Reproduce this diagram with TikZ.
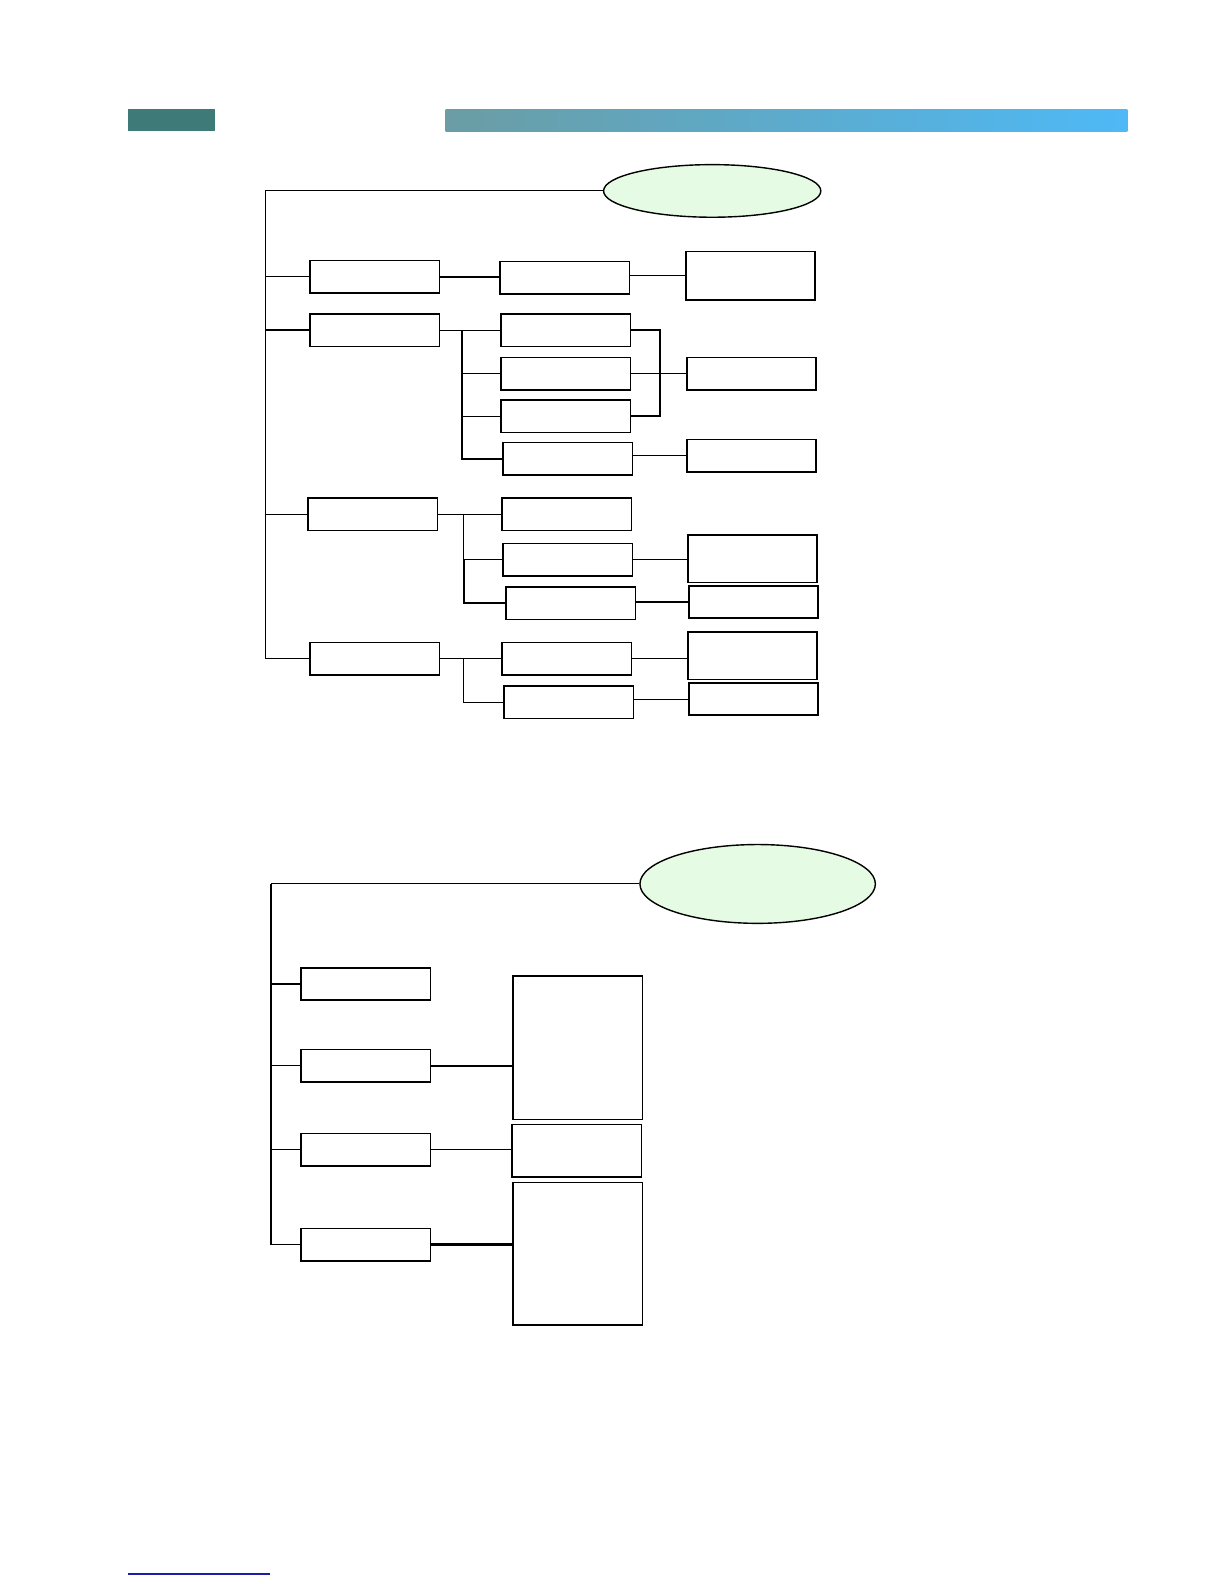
\documentclass[tikz,border=0pt]{standalone}
\usetikzlibrary{positioning,shapes.geometric}
\definecolor{hdteal}{HTML}{3E7B78}
\definecolor{hdgrey}{HTML}{6A9DA4}
\definecolor{hdblue}{HTML}{4EB9F6}
\definecolor{ovalgreen}{HTML}{E6FBE4}
\definecolor{linkblue}{HTML}{1C1CA6}
\begin{document}
\begin{tikzpicture}[x=0.505pt, y=-0.505pt,
  box/.style={draw, rectangle, inner sep=0pt, minimum width=64.6pt,
              minimum height=16.2pt, line width=0.8pt},
  oval/.style={draw, ellipse, fill=ovalgreen, inner sep=0pt, line width=0.7pt},
  ln/.style={line width=0.55pt},
  thk/.style={line width=1.1pt},
]
\useasboundingbox (0,0) rectangle (1212,1568);
% Header bar
\fill[hdteal] (127,108) rectangle (213,130);
\shade[left color=hdgrey, right color=hdblue] (441,108) rectangle (1116,130);
% Upper tree
\node[oval, minimum width=108.6pt, minimum height=26.3pt] (top) at (705,189) {};
\coordinate (sp) at (263,189);
\node[box] (a) at (371,274) {};
\node[box] (b) at (371,327) {};
\node[box] (c) at (369,509) {};
\node[box] (d) at (371,652) {};
\draw[ln] (top.west) -- (sp) |- (d.west);
\draw[ln] (sp |- a.west) -- (a.west);
\draw[thk] (sp |- b.west) -- (b.west);
\draw[ln] (sp |- c.west) -- (c.west);
% first branch
\node[box] (a1) at (559,275) {};
\node[box, minimum height=24.2pt] (a1r) at (743,273) {};
\draw[thk] (a.east) -- (a.east -| a1.west);
\draw[ln] (a1.east |- a1r.west) -- (a1r.west);
% second branch
\node[box] (b1) at (560,327) {};
\node[box] (b2) at (560,370) {};
\node[box] (b3) at (560,412) {};
\node[box] (b4) at (562,454) {};
\node[box] (b23r) at (744,370) {};
\node[box] (b4r) at (744,451) {};
\coordinate (bb) at (457,327);
\draw[ln] (b.east) -- (b1.west);
\draw[thk] (bb) |- (b4.west);
\draw[ln] (bb |- b2.west) -- (b2.west);
\draw[ln] (bb |- b3.west) -- (b3.west);
\coordinate (bk) at (653,370);
\draw[thk] (b1.east) -| (bk |- b3.east) -- (b3.east);
\draw[ln] (b2.east) -- (b23r.west);
\draw[ln] (b4.east |- b4r.west) -- (b4r.west);
% third branch
\node[box] (c1) at (561,509) {};
\node[box] (c2) at (562,554) {};
\node[box] (c3) at (565,597) {};
\node[box, minimum height=23.7pt] (c2r) at (745,553) {};
\node[box] (c3r) at (746,596) {};
\coordinate (cb) at (459,509);
\draw[ln] (c.east) -- (c1.west);
\draw[ln] (cb) |- (c2.west);
\draw[thk] (cb |- c2.west) |- (c3.west);
\draw[ln] (c2.east) -- (c2.east -| c2r.west);
\draw[thk] (c3.east |- c3r.west) -- (c3r.west);
% fourth branch
\node[box] (d1) at (561,652) {};
\node[box] (d2) at (563,695) {};
\node[box, minimum height=23.7pt] (d1r) at (745,649) {};
\node[box] (d2r) at (746,692) {};
\coordinate (db) at (459,652);
\draw[ln] (d.east) -- (d1.west);
\draw[ln] (db) |- (d2.west);
\draw[ln] (d1.east) -- (d1.east -| d1r.west);
\draw[ln] (d2.east |- d2r.west) -- (d2r.west);
% Lower tree
\node[oval, minimum width=117.7pt, minimum height=39.4pt] (low) at (750,875) {};
\coordinate (sq) at (268,875);
\node[box] (e1) at (362,974) {};
\node[box] (e2) at (362,1055) {};
\node[box] (e3) at (362,1138) {};
\node[box] (e4) at (362,1232) {};
\draw[ln] (low.west) -- (sq);
\draw[thk] (sq) -- (sq |- e4.west);
\draw[ln] (sq |- e1.west) -- (e1.west);
\draw[ln] (sq |- e2.west) -- (e2.west);
\draw[ln] (sq |- e3.west) -- (e3.west);
\draw[ln] (sq |- e4.west) -- (e4.west);
\node[box, minimum height=71.7pt] (f1) at (572,1037) {};
\node[box, minimum height=26.3pt] (f2) at (571,1139) {};
\node[box, minimum height=71.2pt] (f3) at (572,1241) {};
\draw[thk] (e2.east) -- (e2.east -| f1.west);
\draw[ln] (e3.east) -- (e3.east -| f2.west);
\draw[thk] (e4.east) -- (e4.east -| f3.west);
% Footer rule
\draw[linkblue, line width=0.7pt] (127,1558) -- (267,1558);
\end{tikzpicture}
\end{document}
